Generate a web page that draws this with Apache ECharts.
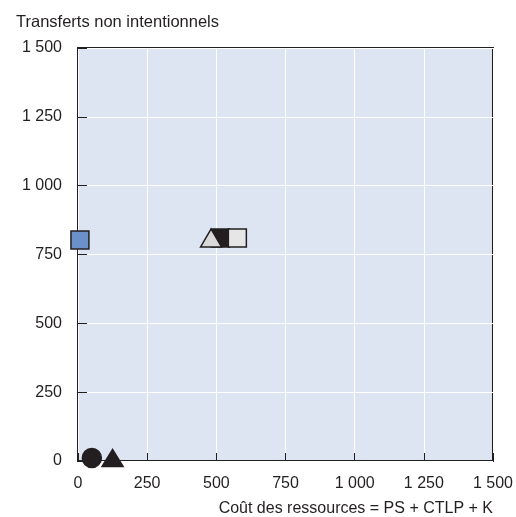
<!DOCTYPE html>
<html><head><meta charset="utf-8">
<script src="https://cdn.jsdelivr.net/npm/echarts@6/dist/echarts.min.js"></script>
<style>html,body{margin:0;padding:0;background:#fff}#c{width:516px;height:517px}</style>
</head><body><div id="c"></div>
<script>
const xTicks = [0, 250, 500, 750, 1000, 1250, 1500];
const yTicks = [0, 250, 500, 750, 1000, 1250, 1500];
const blueSquare = [[7, 803]];
const blackSquare = [[515, 810]];
const grayTriangle = [[481, 810]];
const whiteSquare = [[576, 810]];
const blackCircle = [[50, 11]];
const blackTriangle = [[125, 11]];
const FONT = "'Liberation Sans','Arial',sans-serif";
const fmt = v => { const s = String(v); return s.length > 3 ? s.slice(0, s.length-3) + ' ' + s.slice(-3) : s; };
const chart = echarts.init(document.getElementById('c'), null, {renderer:'canvas'});
function ser(data, symbol, size, fill, z){
  return {type:'scatter', data, symbol, symbolSize:size, clip:false, z,
    itemStyle:{color:fill, borderColor:'#231f20', borderWidth:1.5, opacity:1}};
}
chart.setOption({
  animation:false,
  title:{text:'Transferts non intentionnels', left:11, top:9,
    textStyle:{fontFamily:FONT, fontSize:16.5, fontWeight:'normal', color:'#231f20'}},
  grid:{left:78, right:23, top:48, bottom:55, show:true, backgroundColor:'#dde4f2', borderColor:'#231f20', borderWidth:2},
  xAxis:{type:'value', min:xTicks[0], max:xTicks[xTicks.length-1], interval:250,
    name:'Coût des ressources = PS + CTLP + K', nameLocation:'end', nameGap:0,
    nameTextStyle:{fontFamily:FONT, fontSize:16, color:'#231f20', align:'right', verticalAlign:'top', padding:[40,0,0,0]},
    axisLine:{show:false}, axisTick:{show:true, inside:true, length:8, lineStyle:{color:'#231f20', width:1}},
    splitLine:{show:true, lineStyle:{color:'#ffffff', width:1}},
    axisLabel:{fontFamily:FONT, fontSize:16, color:'#231f20', margin:15, formatter:fmt}},
  yAxis:{type:'value', min:yTicks[0], max:yTicks[yTicks.length-1], interval:250,
    axisLine:{show:false}, axisTick:{show:true, inside:true, length:9, lineStyle:{color:'#231f20', width:1}},
    splitLine:{show:true, lineStyle:{color:'#ffffff', width:1}},
    axisLabel:{fontFamily:FONT, fontSize:16, color:'#231f20', margin:16, formatter:fmt}},
  series:[
    ser(blueSquare, 'rect', 18, '#6b91cb', 3),
    ser(blackSquare, 'rect', 18, '#231f20', 3),
    ser(grayTriangle, 'triangle', [21,18], '#d9d9d9', 4),
    ser(whiteSquare, 'rect', 18, '#e6e6e6', 5),
    ser(blackCircle, 'circle', 19, '#231f20', 3),
    ser(blackTriangle, 'triangle', [21,17], '#231f20', 3)
  ]
});
</script></body></html>
